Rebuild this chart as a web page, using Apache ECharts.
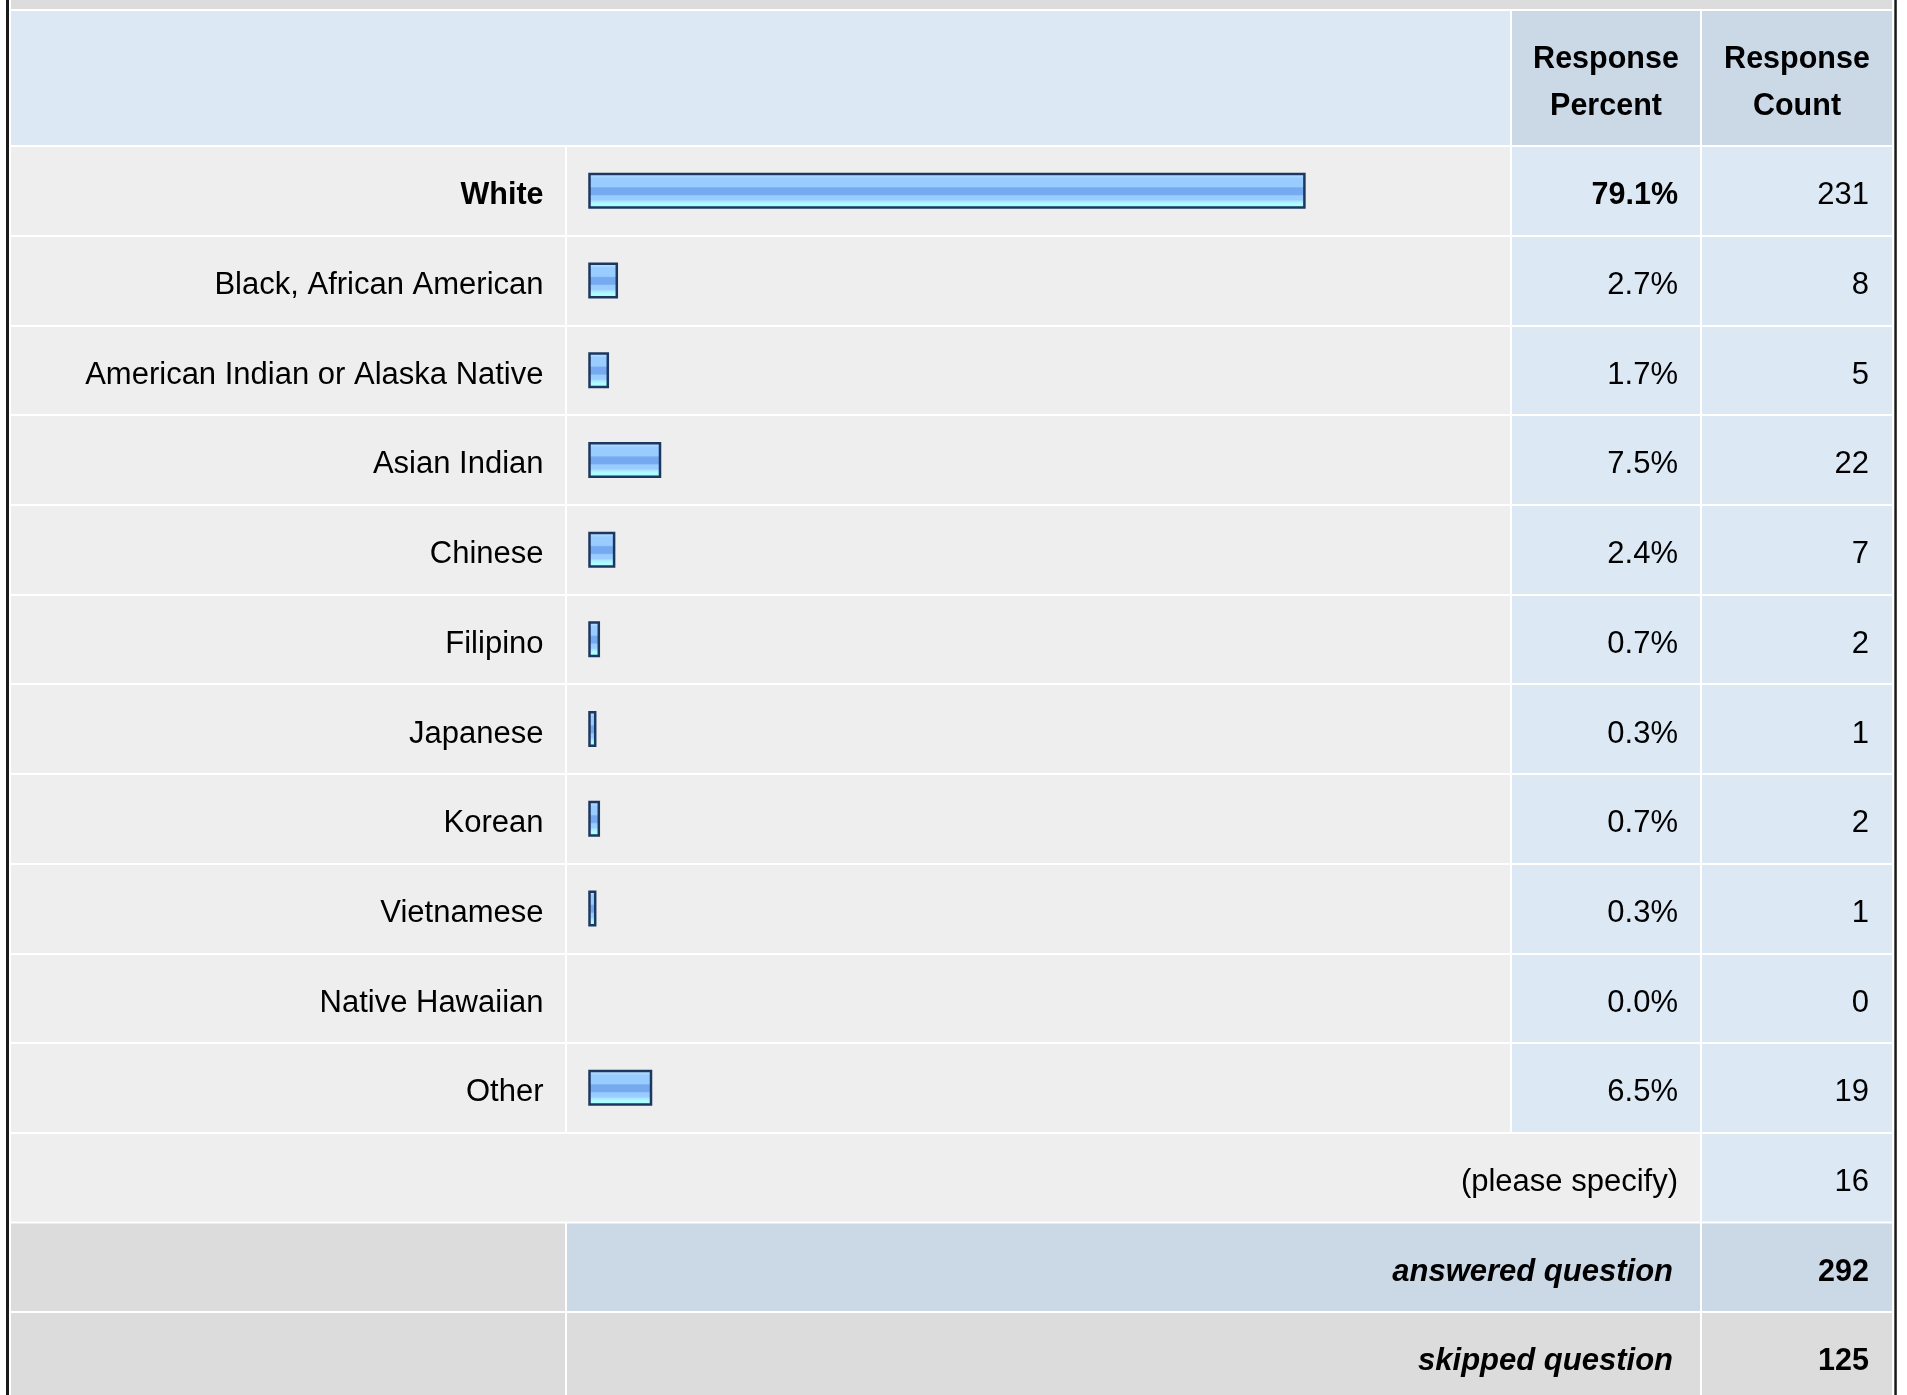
<!DOCTYPE html>
<html>
<head>
<meta charset="utf-8">
<title>Race / ethnicity</title>
<script src="https://cdn.jsdelivr.net/npm/echarts@6/dist/echarts.min.js"></script>
<style>
  html, body { margin: 0; padding: 0; background: #fff; }
  #main { width: 1907px; height: 1395px; }
</style>
</head>
<body>
<div id="main"></div>
<script>
// answer options, top to bottom
var categories = ['White', 'Black, African American', 'American Indian or Alaska Native', 'Asian Indian',
  'Chinese', 'Filipino', 'Japanese', 'Korean', 'Vietnamese', 'Native Hawaiian', 'Other'];
var percents = [79.1, 2.7, 1.7, 7.5, 2.4, 0.7, 0.3, 0.7, 0.3, 0.0, 6.5];
var counts = [231, 8, 5, 22, 7, 2, 1, 2, 1, 0, 19];
var headers = ['Response\nPercent', 'Response\nCount'];
var specifyLabel = '(please specify)';
var specifyCount = 16;
var summaryLabels = ['answered question', 'skipped question'];
var summaryCounts = [292, 125];
var boldRow = 0;

var FONT = '"Liberation Sans", Arial, Helvetica, sans-serif';
var FS = 31, FSB = 30.5;
var TOP = 146, ROW = 89.7;
var H = categories.length * ROW;
var DY = 5; // text sits a bit low in its row
// column edges: label | bar | percent | count
var C = [11, 565, 567, 1510, 1512, 1700, 1702, 1892];

var myChart = echarts.init(document.getElementById('main'));

function bgGrid (l, r, color) {
  return { left: l, width: r - l, top: TOP, height: H, show: true, backgroundColor: color, borderWidth: 0 };
}

function rowAxis (idx, data, opts) {
  var axis = {
    gridIndex: idx,
    type: 'category',
    inverse: true,
    data: data,
    axisLine: { show: false },
    axisTick: { show: false },
    axisLabel: { show: false, interval: 0 },
    splitLine: { show: true, interval: 0, lineStyle: { color: '#ffffff', width: 2 } }
  };
  return Object.assign(axis, opts || {});
}

// 'top' + small lineHeight puts the text middle DY px under the row centre
var labelStyle = { color: '#000', fontFamily: FONT, fontSize: FS, verticalAlign: 'top', lineHeight: DY * 2 };
var boldText = { fontWeight: 'bold', fontSize: FSB };
var boldLabel = Object.assign({}, labelStyle, boldText);

var pctLabels = percents.map(function (v, i) {
  var s = v.toFixed(1) + '%';
  return i === boldRow ? { value: s, textStyle: boldLabel } : s;
});
var catLabels = categories.map(function (c, i) {
  return i === boldRow ? { value: c, textStyle: boldLabel } : c;
});

var barGradient = new echarts.graphic.LinearGradient(0, 0, 0, 1, [
  { offset: 0, color: '#cce6ff' },
  { offset: 0.08, color: '#b0dcff' },
  { offset: 0.15, color: '#99ccff' },
  { offset: 0.38, color: '#99ccff' },
  { offset: 0.42, color: '#76aaf0' },
  { offset: 0.6, color: '#76aaf0' },
  { offset: 0.64, color: '#99ccff' },
  { offset: 0.74, color: '#99ccff' },
  { offset: 0.8, color: '#b0e8ff' },
  { offset: 0.86, color: '#aaffff' },
  { offset: 1, color: '#aaffff' }
]);

// bar image in the original has a fixed extra width on top of the scaled length
function renderBar (params, api) {
  var v = api.value(0);
  if (!v) return;
  var start = api.coord([0, api.value(1)]);
  var end = api.coord([v, api.value(1)]);
  var h = 33.5;
  return {
    type: 'rect',
    shape: { x: start[0], y: start[1] - h / 2, width: end[0] - start[0] + 3, height: h },
    style: { fill: barGradient, stroke: '#1c3760', lineWidth: 2.5 }
  };
}

// table chrome: header, bottom rows, outer border
function rect (x1, x2, y1, y2, color) {
  return { type: 'rect', silent: true, shape: { x: x1, y: y1, width: x2 - x1, height: y2 - y1 }, style: { fill: color } };
}
function text (x, y, str, extra) {
  var st = { text: String(str), x: x, y: y, align: 'right', verticalAlign: 'middle',
    fontFamily: FONT, fontSize: FS, fill: '#000' };
  return { type: 'text', silent: true, z: 10, style: Object.assign(st, extra || {}) };
}
function rowTop (k) { return TOP + ROW * k + 1; }
function rowBot (k) { return TOP + ROW * (k + 1) - 1; }
function rowMid (k) { return TOP + ROW * k + ROW / 2 + DY; }

var n = categories.length;
var headStyle = { align: 'center', fontWeight: 'bold', fontSize: FSB, lineHeight: 47 };
var sumStyle = { fontWeight: 'bold', fontStyle: 'italic' };
var graphics = [
  rect(C[0], C[7], 0, 9, '#dcdcdc'),
  rect(C[0], C[3], 11, 145, '#dde8f5'),
  rect(C[4], C[5], 11, 145, '#cbd8e6'),
  rect(C[6], C[7], 11, 145, '#cbd8e6'),
  text((C[4] + C[5]) / 2, 83, headers[0], headStyle),
  text((C[6] + C[7]) / 2, 83, headers[1], headStyle),

  rect(C[0], C[5], rowTop(n), rowBot(n), '#eeeeee'),
  rect(C[6], C[7], rowTop(n), rowBot(n), '#dde8f5'),
  text(C[5] - 22, rowMid(n), specifyLabel),
  text(C[7] - 23, rowMid(n), specifyCount),

  rect(C[0], C[1], rowTop(n + 1), rowBot(n + 1), '#dcdcdc'),
  rect(C[2], C[5], rowTop(n + 1), rowBot(n + 1), '#cbd8e6'),
  rect(C[6], C[7], rowTop(n + 1), rowBot(n + 1), '#cbd8e6'),
  text(C[5] - 27, rowMid(n + 1), summaryLabels[0], sumStyle),
  text(C[7] - 23, rowMid(n + 1), summaryCounts[0], boldText),

  rect(C[0], C[1], rowTop(n + 2), 1395, '#dcdcdc'),
  rect(C[2], C[5], rowTop(n + 2), 1395, '#dcdcdc'),
  rect(C[6], C[7], rowTop(n + 2), 1395, '#dcdcdc'),
  text(C[5] - 27, rowMid(n + 2), summaryLabels[1], sumStyle),
  text(C[7] - 23, rowMid(n + 2), summaryCounts[1], boldText),

  rect(6, 9, 0, 1395, '#1a1a1a'),
  rect(1894.3, 1896.8, 0, 1395, '#1a1a1a')
];

var option = {
  animation: false,
  backgroundColor: '#ffffff',
  grid: [
    bgGrid(C[0], C[1], '#eeeeee'),
    bgGrid(C[2], C[3], '#eeeeee'),
    bgGrid(C[4], C[5], '#dde8f5'),
    bgGrid(C[6], C[7], '#dde8f5'),
    { left: 589.5, width: 900, top: TOP, height: H }
  ],
  xAxis: [0, 1, 2, 3, 4].map(function (i) {
    return { gridIndex: i, type: 'value', min: 0, max: 100, show: false };
  }),
  yAxis: [
    rowAxis(0, categories),
    rowAxis(1, categories),
    rowAxis(2, pctLabels, {
      position: 'right',
      axisLabel: Object.assign({ show: true, inside: true, margin: 22, interval: 0 }, labelStyle)
    }),
    rowAxis(3, counts.map(String), {
      position: 'right',
      axisLabel: Object.assign({ show: true, inside: true, margin: 23, interval: 0 }, labelStyle)
    }),
    rowAxis(4, catLabels, {
      splitLine: { show: false },
      axisLabel: Object.assign({ show: true, margin: 46, interval: 0 }, labelStyle)
    })
  ],
  series: [
    {
      type: 'custom',
      xAxisIndex: 4,
      yAxisIndex: 4,
      renderItem: renderBar,
      encode: { x: 0, y: 1 },
      data: percents.map(function (v, i) { return [v, i]; })
    }
  ],
  graphic: graphics
};

myChart.setOption(option);
window.onresize = myChart.resize;
</script>
</body>
</html>
